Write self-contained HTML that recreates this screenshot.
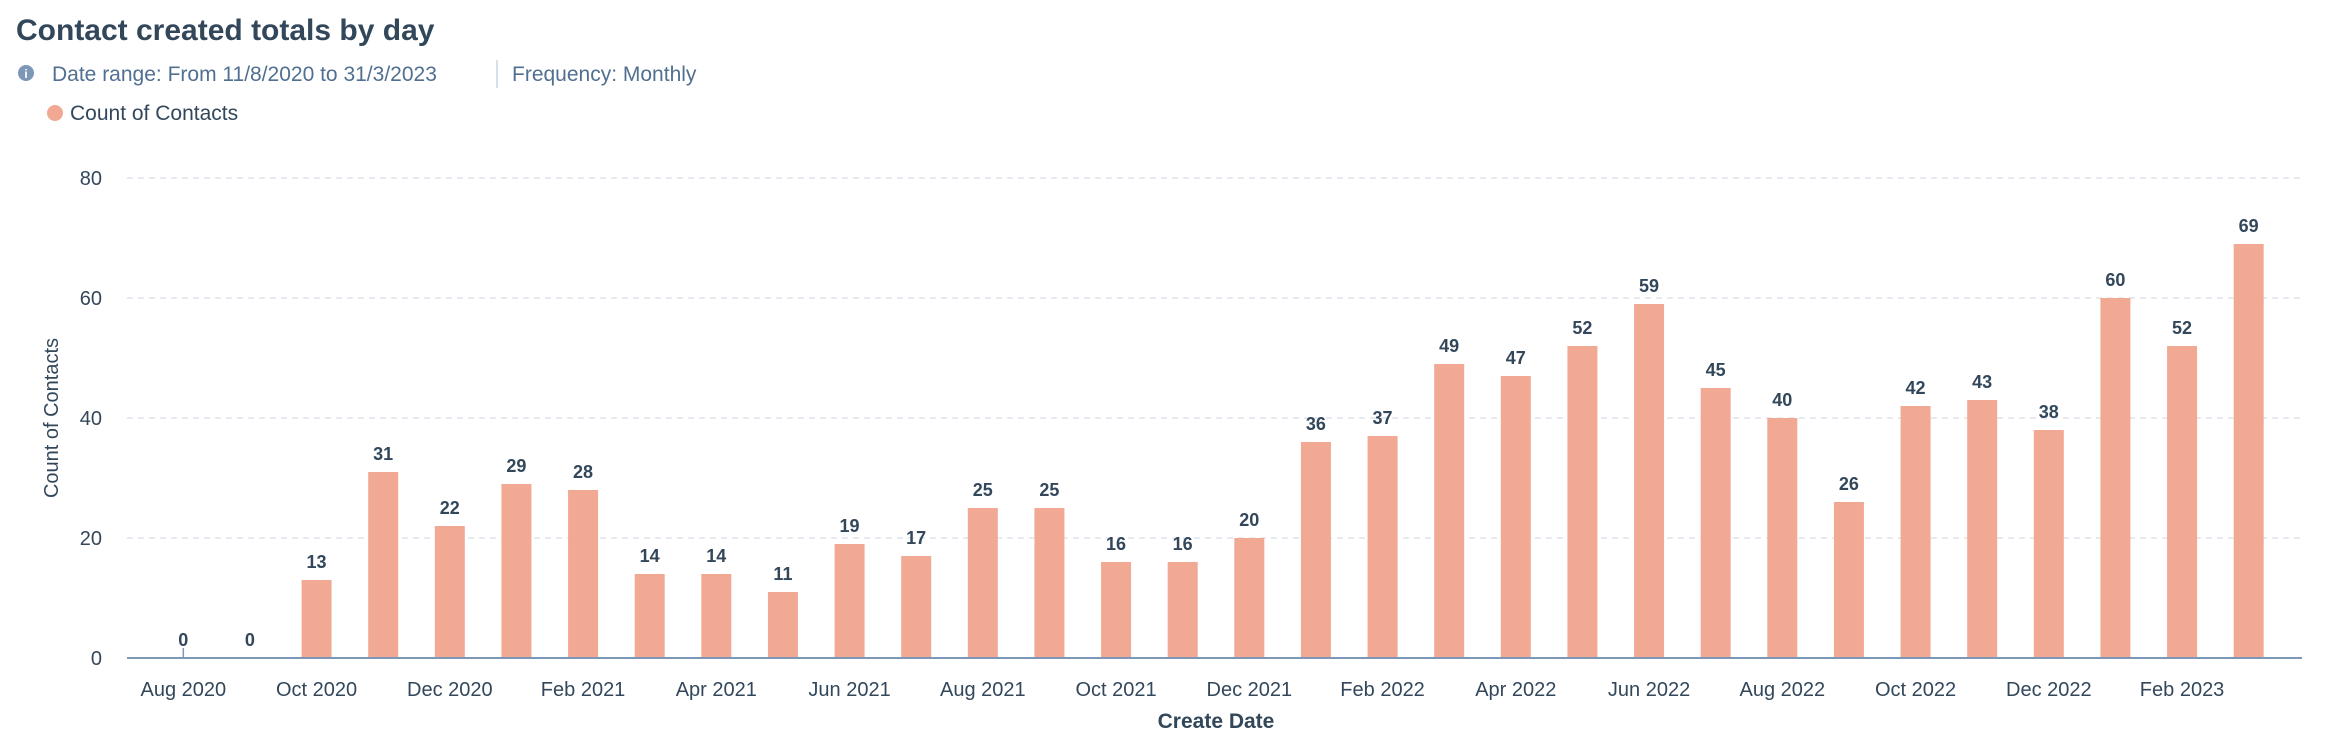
<!DOCTYPE html>
<html><head><meta charset="utf-8"><style>
html,body{margin:0;padding:0;background:#fff;width:2332px;height:750px;overflow:hidden;font-family:"Liberation Sans",sans-serif;}
svg{display:block}
</style></head><body>
<svg id="chart" width="2332" height="750" xmlns="http://www.w3.org/2000/svg">
<text x="16" y="40" font-size="30" font-weight="bold" fill="#33475b">Contact created totals by day</text>
<g><circle cx="26" cy="73" r="8" fill="#7c98b6"/><text x="26" y="78" font-size="12" font-weight="bold" fill="#fff" text-anchor="middle">i</text></g>
<text x="52" y="81" font-size="21" fill="#516f90">Date range: From 11/8/2020 to 31/3/2023</text>
<line x1="497" y1="60" x2="497" y2="88" stroke="#cbd6e2" stroke-width="1.5"/>
<text x="512" y="81" font-size="21" fill="#516f90">Frequency: Monthly</text>
<g><circle cx="55" cy="113" r="8" fill="#f2a994"/><text x="70" y="120" font-size="21" fill="#33475b">Count of Contacts</text></g>
<g id="grid"></g><g id="bars"></g><g id="xl"></g>
<text transform="translate(58,418) rotate(-90)" font-size="20" fill="#33475b" text-anchor="middle">Count of Contacts</text>
<text x="1216" y="728" font-size="21" font-weight="bold" fill="#33475b" text-anchor="middle">Create Date</text>
</svg>
<script>
const categories=["Aug 2020","Sep 2020","Oct 2020","Nov 2020","Dec 2020","Jan 2021","Feb 2021","Mar 2021","Apr 2021","May 2021","Jun 2021","Jul 2021","Aug 2021","Sep 2021","Oct 2021","Nov 2021","Dec 2021","Jan 2022","Feb 2022","Mar 2022","Apr 2022","May 2022","Jun 2022","Jul 2022","Aug 2022","Sep 2022","Oct 2022","Nov 2022","Dec 2022","Jan 2023","Feb 2023","Mar 2023"];
const values=[0,0,13,31,22,29,28,14,14,11,19,17,25,25,16,16,20,36,37,49,47,52,59,45,40,26,42,43,38,60,52,69];
const yTicks=[0,20,40,60,80];
const NS="http://www.w3.org/2000/svg";
const plotL=127,plotR=2302,bandL=150,bandR=2282,y0=658,y80=178,yMax=80;
const y=v=>y0-(v/yMax)*(y0-y80);
const bw=(bandR-bandL)/categories.length;
const x=i=>bandL+bw*(i+0.5);
function mk(t,a,p){const e=document.createElementNS(NS,t);for(const k in a)e.setAttribute(k,a[k]);p.appendChild(e);return e;}
const grid=document.getElementById('grid'),bars=document.getElementById('bars'),xl=document.getElementById('xl');
yTicks.forEach(t=>{
  if(t>0){const l=mk('line',{x1:plotL,x2:plotR,y1:y(t),y2:y(t),stroke:'#dfe3eb','stroke-width':1.5,'stroke-dasharray':'6 5'},grid);
  
  }
  const tx=mk('text',{x:102,y:y(t)+7,'font-size':20,fill:'#33475b','text-anchor':'end'},grid);
  tx.textContent=t;
  
  
});
values.forEach((v,i)=>{
  const r=mk('rect',{x:x(i)-15,y:y(v),width:30,height:y0-y(v),fill:'#f2a994'},bars);
  
  
  const t=mk('text',{x:x(i),y:y(v)-12,'font-size':18,'font-weight':'bold',fill:'#33475b','text-anchor':'middle'},bars);
  t.textContent=v;
  
  
  if(i%2===0){
    const lb=mk('text',{x:x(i),y:696,'font-size':20,fill:'#33475b','text-anchor':'middle'},xl);
    lb.textContent=categories[i];
    
    
  }
});
const ax=mk('line',{x1:plotL,x2:plotR,y1:y0,y2:y0,stroke:'#7c98b6','stroke-width':2},xl);


const tk=mk('line',{x1:x(0),x2:x(0),y1:y0-10,y2:y0,stroke:'#7c98b6','stroke-width':1.5},xl);


</script>
</body></html>
